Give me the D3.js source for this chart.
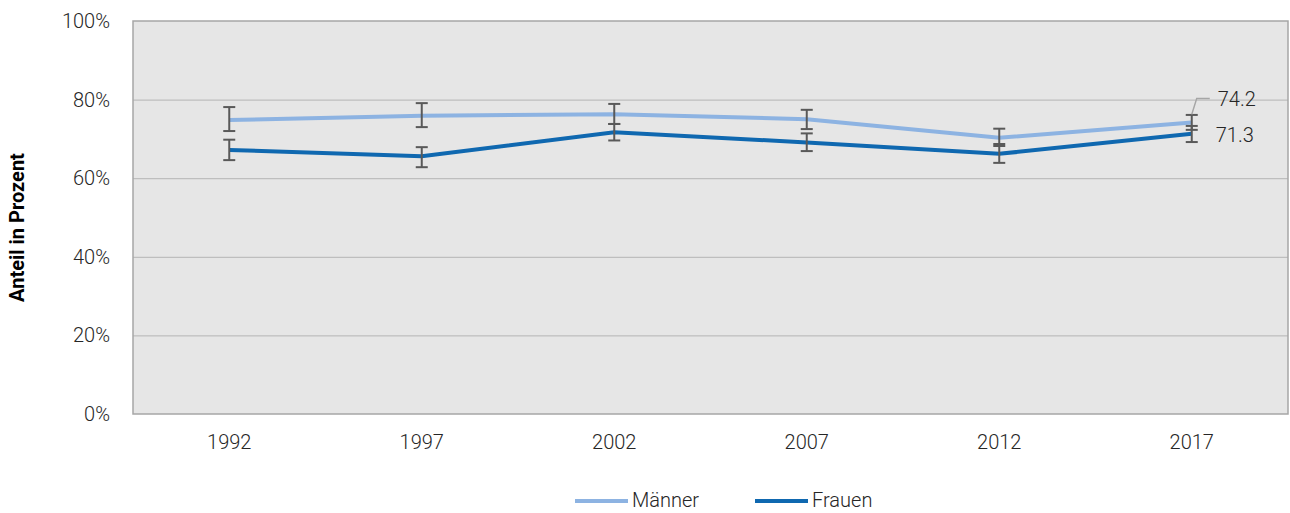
<!DOCTYPE html>
<html>
<head>
<meta charset="utf-8">
<title>Anteil in Prozent</title>
<script src="https://cdn.jsdelivr.net/npm/d3@7"></script>
<style>
body { margin: 0; background: #fff; font-family: Roboto, "Noto Sans", sans-serif; }
.tick text { font-family: Roboto, sans-serif; font-size: 20px; font-weight: 300; fill: #262626; }
.lbl { font-family: Roboto, sans-serif; font-size: 20px; font-weight: 300; fill: #262626; }
.axis path, .axis line { display: none; }
.grid line { stroke: #b4b4b4; stroke-width: 1; }
</style>
</head>
<body>
<svg width="1290" height="513"></svg>
<script>

var years = ["1992", "1997", "2002", "2007", "2012", "2017"];
var maenner = [74.8, 75.9, 76.3, 75.0, 70.3, 74.2];
var maennerLow = [72.0, 73.0, 73.8, 72.5, 68.7, 72.3];
var maennerHigh = [78.1, 79.1, 78.9, 77.4, 72.6, 76.1];
var frauen = [67.2, 65.6, 71.7, 69.1, 66.2, 71.3];
var frauenLow = [64.6, 62.8, 69.6, 66.9, 63.9, 69.2];
var frauenHigh = [69.8, 67.9, 73.8, 71.4, 68.2, 73.3];
var yTicks = [0, 20, 40, 60, 80, 100];

var svg = d3.select("svg"),
    margin = {top: 21, right: 2, bottom: 99, left: 133},
    width = +svg.attr("width") - margin.left - margin.right,
    height = +svg.attr("height") - margin.top - margin.bottom;

var x = d3.scaleBand().domain(years).range([0, width]),
    y = d3.scaleLinear().domain([0, 100]).range([height, 0]);

var g = svg.append("g")
    .attr("transform", "translate(" + margin.left + "," + margin.top + ")");

g.append("rect")
    .attr("width", width)
    .attr("height", height)
    .attr("fill", "#e6e6e6");

g.append("g")
    .attr("class", "grid")
  .selectAll("line")
  .data(yTicks.slice(1, -1))
  .enter().append("line")
    .attr("x1", 0)
    .attr("x2", width)
    .attr("y1", function(d) { return y(d) + 0.5; })
    .attr("y2", function(d) { return y(d) + 0.5; });

g.append("rect")
    .attr("width", width)
    .attr("height", height)
    .attr("fill", "none")
    .attr("stroke", "#a6a6a6")
    .attr("stroke-width", 1.5);

g.append("g")
    .attr("class", "axis")
    .attr("transform", "translate(0," + height + ")")
    .call(d3.axisBottom(x).tickSize(0).tickPadding(21));

g.append("g")
    .attr("class", "axis")
    .call(d3.axisLeft(y).tickValues(yTicks).tickSize(0).tickPadding(23)
      .tickFormat(function(d) { return d + "%"; }));

svg.append("text")
    .attr("transform", "translate(24," + (margin.top + height / 2 + 10) + ") rotate(-90)")
    .attr("text-anchor", "middle")
    .attr("font-size", "20px")
    .attr("font-weight", "bold")
    .attr("fill", "#000")
    .text("Anteil in Prozent");

var cx = function(i) { return x(years[i]) + x.bandwidth() / 2; };

var series = [
  {name: "Männer", values: maenner, low: maennerLow, high: maennerHigh, color: "#8db3e2"},
  {name: "Frauen", values: frauen, low: frauenLow, high: frauenHigh, color: "#0f68b0"}
];

var line = d3.line()
    .x(function(d, i) { return cx(i); })
    .y(function(d) { return y(d); });

series.forEach(function(s) {
  g.append("path")
      .datum(s.values)
      .attr("fill", "none")
      .attr("stroke", s.color)
      .attr("stroke-width", 4)
      .attr("d", line);
});

// error bars
series.forEach(function(s) {
  var eb = g.append("g").attr("stroke", "#595959").attr("stroke-width", 2);
  years.forEach(function(yr, i) {
    eb.append("line")
        .attr("x1", cx(i)).attr("x2", cx(i))
        .attr("y1", y(s.low[i])).attr("y2", y(s.high[i]));
    [s.low[i], s.high[i]].forEach(function(v) {
      eb.append("line")
          .attr("x1", cx(i) - 6).attr("x2", cx(i) + 6)
          .attr("y1", y(v)).attr("y2", y(v));
    });
  });
});

// end labels
var last = years.length - 1;
g.append("path")
    .attr("fill", "none")
    .attr("stroke", "#a6a6a6")
    .attr("stroke-width", 1.5)
    .attr("d", "M" + cx(last) + "," + (y(maenner[last]) - 8) +
               "L" + (cx(last) + 5) + "," + (y(maenner[last]) - 24) +
               "H" + (cx(last) + 18));

g.append("text")
    .attr("class", "lbl")
    .attr("x", cx(last) + 26)
    .attr("y", y(maenner[last]) - 16)
    .text(maenner[last].toFixed(1));

g.append("text")
    .attr("class", "lbl")
    .attr("x", cx(last) + 24)
    .attr("y", y(frauen[last]) + 8)
    .text(frauen[last].toFixed(1));

// legend
var lg = svg.append("g").attr("transform", "translate(575,500)");
series.forEach(function(s, i) {
  var item = lg.append("g").attr("transform", "translate(" + (i * 180) + ",0)");
  item.append("line")
      .attr("x1", 0).attr("x2", 53)
      .attr("y1", 1).attr("y2", 1)
      .attr("stroke", s.color)
      .attr("stroke-width", 4);
  item.append("text")
      .attr("class", "lbl")
      .attr("x", 57)
      .attr("dy", "0.35em")
      .text(s.name);
});

</script>
</body>
</html>
